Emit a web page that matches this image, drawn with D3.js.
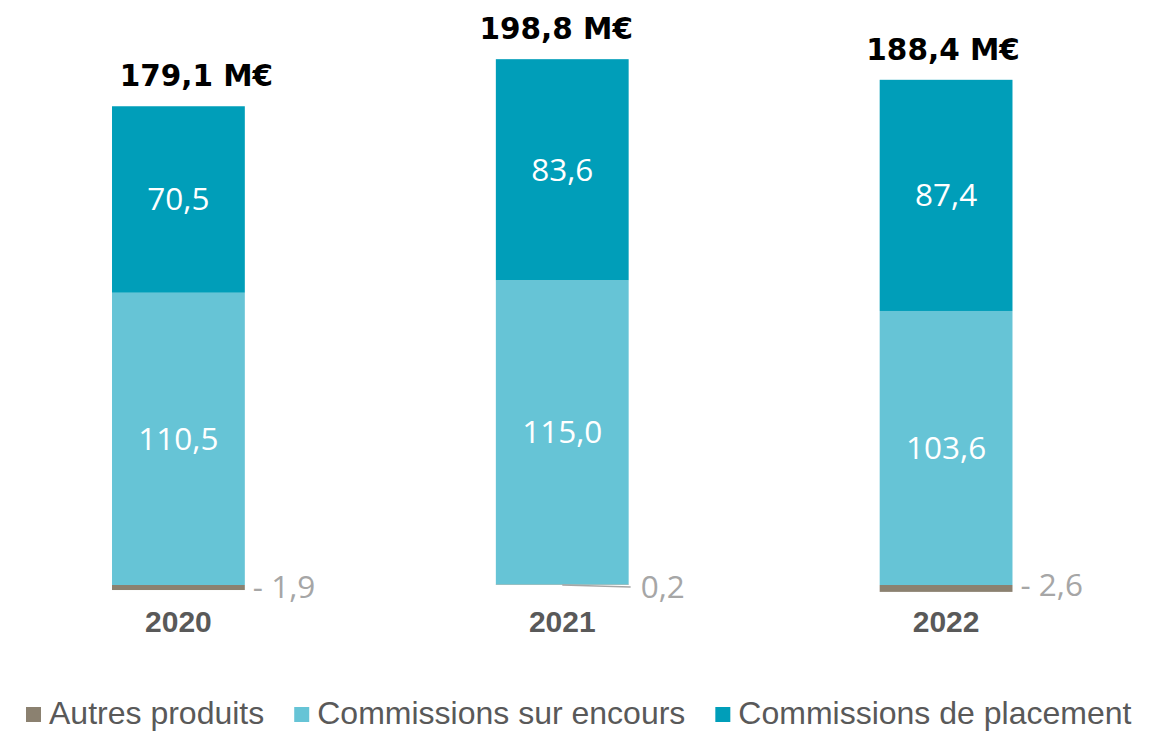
<!DOCTYPE html>
<html>
<head>
<meta charset="utf-8">
<script src="https://cdn.jsdelivr.net/npm/d3@7"></script>
<style>
  body { margin: 0; background: #fff; }
  svg { display: block; }
</style>
</head>
<body>
<svg></svg>
<script>
// DATA
const YEARS = ["2020", "2021", "2022"];
const SERIES = ["Autres produits", "Commissions sur encours", "Commissions de placement"];
const AUTRES = [-1.9, 0.2, -2.6];
const ENCOURS = [110.5, 115.0, 103.6];
const PLACEMENT = [70.5, 83.6, 87.4];
const TOTALS = ["179,1 M€", "198,8 M€", "188,4 M€"];
const AUTRES_LABELS = ["- 1,9", "0,2", "- 2,6"];

// LAYOUT
const WIDTH = 1153, HEIGHT = 731;
const BASELINE = 585;
const COLORS = ["#8b8170", "#66c4d6", "#009eb9"];
const LABEL_GREY = "#a6a6a6";
const TEXT_GREY = "#595959";
const TOTAL_DX = [18, -6, -3]; // totals are not quite centred in the original

const svg = d3.select("svg").attr("width", WIDTH).attr("height", HEIGHT);

const rows = YEARS.map((yr, i) => ({
  year: yr, autres: AUTRES[i], encours: ENCOURS[i], placement: PLACEMENT[i]
}));

const x = d3.scaleBand().domain(YEARS).range([-13.5, 1138]).paddingInner(0.654).paddingOuter(0.327);
const y = d3.scaleLinear().domain([0, 200]).range([BASELINE, BASELINE - 529]);

const stack = d3.stack()
  .keys(["autres", "encours", "placement"])
  .offset(d3.stackOffsetDiverging);
const stacked = stack(rows);

const layers = svg.selectAll(".layer")
  .data(stacked)
  .enter().append("g")
  .attr("class", "layer")
  .attr("fill", (d, i) => COLORS[i]);

layers.selectAll("rect")
  .data(d => d)
  .enter().append("rect")
  .attr("x", d => x(d.data.year))
  .attr("width", x.bandwidth())
  .attr("y", d => y(Math.max(d[0], d[1])))
  .attr("height", d => Math.abs(y(d[0]) - y(d[1])));

// white labels inside the two big segments
stacked.slice(1).forEach(layer => {
  svg.selectAll(null)
    .data(layer)
    .enter().append("text")
    .attr("x", d => x(d.data.year) + x.bandwidth() / 2)
    .attr("y", d => (y(d[0]) + y(d[1])) / 2 + 11)
    .attr("text-anchor", "middle")
    .attr("font-family", "'Open Sans', sans-serif")
    .attr("font-size", 31.5)
    .attr("fill", "#fff")
    .text(d => (d[1] - d[0]).toFixed(1).replace(".", ","));
});

// small "autres" labels to the right of the bars
svg.selectAll(".autres-label")
  .data(rows)
  .enter().append("text")
  .attr("class", "autres-label")
  .attr("x", (d, i) => x(d.year) + x.bandwidth() + (d.autres > 0 ? 12 : 8))
  .attr("y", (d, i) => BASELINE + (i === 2 ? 11 : 13))
  .attr("font-family", "'Open Sans', sans-serif")
  .attr("font-size", 31.5)
  .attr("fill", LABEL_GREY)
  .text((d, i) => AUTRES_LABELS[i]);

// leader line for the tiny positive value
svg.selectAll(".leader")
  .data(rows.filter(d => d.autres > 0))
  .enter().append("line")
  .attr("x1", d => x(d.year) + x.bandwidth() / 2)
  .attr("y1", y(0))
  .attr("x2", d => x(d.year) + x.bandwidth() + 2)
  .attr("y2", y(0) + 2)
  .attr("stroke", LABEL_GREY)
  .attr("stroke-width", 1.5);

// totals above bars
svg.selectAll(".total")
  .data(rows)
  .enter().append("text")
  .attr("class", "total")
  .attr("x", (d, i) => x(d.year) + x.bandwidth() / 2 + TOTAL_DX[i])
  .attr("y", d => y(d.encours + d.placement + Math.max(0, d.autres)) - 20)
  .attr("text-anchor", "middle")
  .attr("font-family", "'DejaVu Sans', sans-serif")
  .attr("font-weight", "bold")
  .attr("font-size", 29.5)
  .attr("fill", "#000")
  .text((d, i) => TOTALS[i]);

// year axis labels
svg.selectAll(".year")
  .data(YEARS)
  .enter().append("text")
  .attr("class", "year")
  .attr("x", d => x(d) + x.bandwidth() / 2)
  .attr("y", 632)
  .attr("text-anchor", "middle")
  .attr("font-family", "'Liberation Sans', Arial, sans-serif")
  .attr("font-weight", "bold")
  .attr("font-size", 30)
  .attr("fill", TEXT_GREY)
  .text(d => d);

// legend
const legend = svg.append("g");
let lx = 26;
SERIES.forEach((name, i) => {
  legend.append("rect")
    .attr("x", lx).attr("y", 707)
    .attr("width", 15).attr("height", 15)
    .attr("fill", COLORS[i]);
  const t = legend.append("text")
    .attr("x", lx + 23).attr("y", 724)
    .attr("font-family", "'Liberation Sans', Arial, sans-serif")
    .attr("font-size", 32)
    .attr("fill", TEXT_GREY)
    .text(name);
  lx += 23 + t.node().getComputedTextLength() + 30;
});
</script>
</body>
</html>
